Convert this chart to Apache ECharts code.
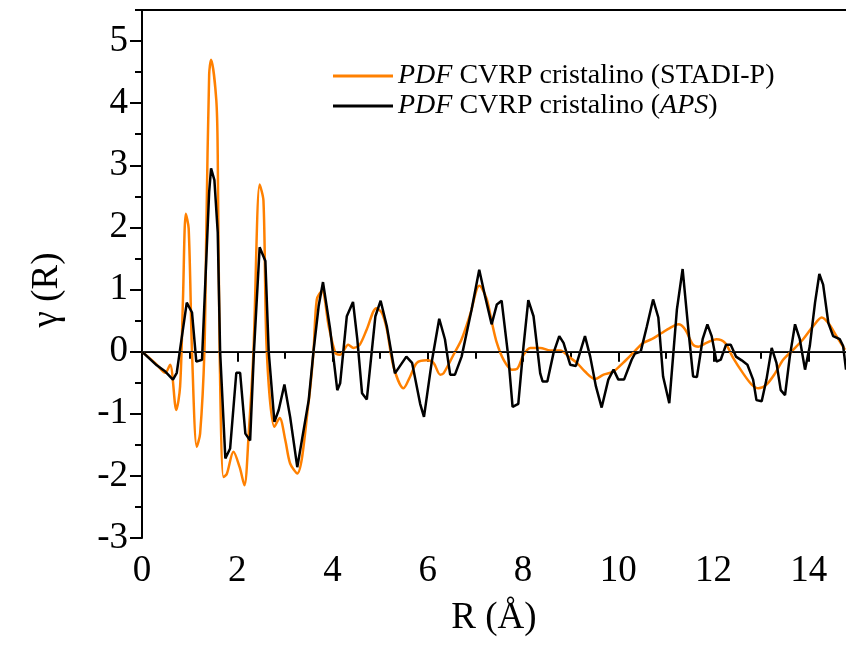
<!DOCTYPE html>
<html>
<head>
<meta charset="utf-8">
<script src="https://cdn.jsdelivr.net/npm/echarts@6/dist/echarts.min.js"></script>
<style>
html,body{margin:0;padding:0;background:#fff;}
#chart{width:846px;height:648px;}
</style>
</head>
<body>
<div id="chart"></div>
<script>
// ---- data (R in Å, gamma(R)) ----
const stadiR = [0,0.30,0.49,0.59,0.72,0.80,0.86,0.92,0.98,1.05,1.15,1.22,1.31,1.35,1.41,1.45,1.56,1.59,1.63,1.71,1.78,1.92,2.05,2.15,2.24,2.34,2.47,2.55,2.62,2.78,2.89,3.01,3.11,3.26,3.50,3.60,3.67,3.78,3.92,4.06,4.16,4.33,4.44,4.57,4.72,4.92,5.04,5.14,5.28,5.49,5.63,5.77,5.98,6.12,6.26,6.33,6.54,6.71,6.89,7.08,7.13,7.24,7.34,7.45,7.59,7.76,7.87,8.01,8.15,8.36,8.57,8.78,8.99,9.13,9.30,9.51,9.69,9.90,10.10,10.31,10.52,10.70,10.91,11.08,11.26,11.40,11.57,11.68,11.85,12.06,12.24,12.41,12.62,12.80,12.94,13.11,13.29,13.46,13.67,13.88,14.09,14.27,14.41,14.58,14.76];
const stadiG = [0,-0.20,-0.34,-0.21,-0.94,-0.56,0.84,2.22,1.98,0,-1.53,-1.32,0,1.92,4.46,4.70,4.05,3.16,0,-2.02,-1.97,-1.61,-1.86,-2.15,-1.32,0,2.69,2.43,0,-1.21,-1.07,-1.43,-1.80,-1.96,-0.80,0,0.84,0.98,0.41,-0.02,-0.05,0.11,0.06,0.11,0.36,0.70,0.62,0.36,-0.24,-0.59,-0.40,-0.18,-0.14,-0.18,-0.37,-0.35,-0.05,0.20,0.60,1.06,1.03,0.84,0.49,0.14,-0.13,-0.29,-0.28,-0.05,0.06,0.06,0.02,0.02,-0.10,-0.18,-0.32,-0.44,-0.37,-0.32,-0.18,-0.02,0.14,0.20,0.30,0.38,0.44,0.36,0.11,0.08,0.14,0.20,0.14,-0.10,-0.35,-0.53,-0.59,-0.53,-0.35,-0.13,0.03,0.20,0.41,0.55,0.46,0.25,0.03];

const apsR = [0,0.31,0.49,0.65,0.73,0.80,0.94,1.05,1.14,1.26,1.41,1.45,1.52,1.59,1.64,1.75,1.85,1.98,2.06,2.17,2.27,2.35,2.47,2.59,2.66,2.78,2.87,2.99,3.11,3.26,3.50,3.60,3.71,3.80,3.95,4.10,4.16,4.30,4.43,4.52,4.62,4.72,4.90,5.01,5.14,5.31,5.55,5.67,5.84,5.92,6.08,6.24,6.36,6.47,6.57,6.71,6.92,7.08,7.20,7.34,7.45,7.55,7.69,7.78,7.90,8.01,8.11,8.22,8.36,8.41,8.51,8.64,8.76,8.85,8.99,9.11,9.30,9.41,9.53,9.65,9.79,9.90,10.00,10.12,10.28,10.35,10.47,10.60,10.73,10.84,10.94,11.07,11.23,11.35,11.47,11.57,11.65,11.77,11.87,11.96,12.06,12.15,12.26,12.36,12.47,12.59,12.71,12.83,12.90,13.01,13.11,13.22,13.32,13.41,13.50,13.60,13.71,13.81,13.92,14.02,14.13,14.22,14.30,14.41,14.51,14.65,14.72,14.78];
const apsG = [0,-0.22,-0.32,-0.45,-0.34,0.04,0.79,0.63,-0.16,-0.13,2.57,2.95,2.76,1.92,0,-1.72,-1.56,-0.34,-0.34,-1.32,-1.43,0,1.68,1.46,0,-1.13,-0.94,-0.53,-1.05,-1.86,-0.78,0,0.74,1.12,0.36,-0.62,-0.51,0.57,0.80,0.20,-0.67,-0.77,0.57,0.82,0.41,-0.35,-0.08,-0.18,-0.84,-1.05,-0.18,0.53,0.20,-0.37,-0.37,-0.08,0.68,1.32,0.90,0.44,0.76,0.82,-0.08,-0.89,-0.84,0.09,0.83,0.57,-0.35,-0.48,-0.48,-0.02,0.25,0.14,-0.21,-0.23,0.25,-0.08,-0.56,-0.90,-0.45,-0.29,-0.45,-0.45,-0.13,-0.03,0,0.41,0.84,0.55,-0.40,-0.83,0.68,1.33,0.36,-0.40,-0.41,0.20,0.44,0.25,-0.16,-0.13,0.11,0.11,-0.08,-0.14,-0.21,-0.45,-0.78,-0.80,-0.45,0.06,-0.18,-0.62,-0.70,-0.08,0.44,0.20,-0.29,0.09,0.79,1.25,1.08,0.46,0.25,0.20,0.09,-0.29];

const xTicks = [0,2,4,6,8,10,12,14];
const xMinorTicks = [1,3,5,7,9,11,13];
const yTicks = [-3,-2,-1,0,1,2,3,4,5];
const yMinorTicks = [-2.5,-1.5,-0.5,0.5,1.5,2.5,3.5,4.5,5.5];

const seriesNames = ['PDF CVRP cristalino (STADI-P)', 'PDF CVRP cristalino (APS)'];
const legendRich = {
  'PDF CVRP cristalino (STADI-P)': '{i|PDF} CVRP cristalino (STADI-P)',
  'PDF CVRP cristalino (APS)': '{i|PDF} CVRP cristalino ({i|APS})'
};

const FONT = 'Liberation Serif';
const pairs = (xs, ys) => xs.map((x, i) => [x, ys[i]]);

const chart = echarts.init(document.getElementById('chart'), null, {renderer: 'canvas'});
const axisLineStyle = {color: '#000', width: 2};
chart.setOption({
  animation: false,
  backgroundColor: '#fff',
  grid: {left: 142, right: 0, top: 10, bottom: 110, containLabel: false},
  legend: {
    orient: 'vertical',
    left: 328,
    top: 56,
    itemWidth: 60,
    itemHeight: 3,
    itemGap: 0,
    icon: 'rect',
    data: seriesNames,
    formatter: n => legendRich[n],
    textStyle: {
      fontFamily: FONT, fontSize: 28, color: '#000', lineHeight: 30,
      rich: {i: {fontFamily: FONT, fontSize: 28, fontStyle: 'italic', color: '#000', lineHeight: 30}}
    }
  },
  xAxis: [
    {
      type: 'value', min: 0, max: 14.78, position: 'bottom',
      axisLine: {show: true, lineStyle: axisLineStyle},
      axisTick: {show: true, customValues: xTicks, length: 10, lineStyle: {color: '#000', width: 2}},
      axisLabel: {customValues: xTicks, fontFamily: FONT, fontSize: 37, color: '#000', margin: 15},
      splitLine: {show: false},
      name: 'R (Å)', nameLocation: 'middle', nameGap: 62,
      nameTextStyle: {fontFamily: FONT, fontSize: 37, color: '#000'}
    },
    {
      type: 'value', min: 0, max: 14.78, position: 'bottom',
      axisLine: {show: false},
      axisTick: {show: true, customValues: xMinorTicks, length: 7, lineStyle: {color: '#000', width: 2}},
      axisLabel: {show: false}, splitLine: {show: false}
    },
    {
      type: 'value', min: 0, max: 14.78, position: 'top',
      axisLine: {show: true, lineStyle: axisLineStyle},
      axisTick: {show: false}, axisLabel: {show: false}, splitLine: {show: false}
    }
  ],
  yAxis: [
    {
      type: 'value', min: -3, max: 5.5, position: 'left',
      axisLine: {show: true, lineStyle: axisLineStyle},
      axisTick: {show: true, customValues: yTicks, length: 12, lineStyle: {color: '#000', width: 2}},
      axisLabel: {customValues: yTicks, fontFamily: FONT, fontSize: 37, color: '#000', margin: 14},
      splitLine: {show: false},
      name: 'γ (R)', nameLocation: 'middle', nameGap: 76, nameRotate: 90,
      nameTextStyle: {fontFamily: FONT, fontSize: 37, color: '#000', padding: [0, 32, 0, 0]}
    },
    {
      type: 'value', min: -3, max: 5.5, position: 'left',
      axisLine: {show: false},
      axisTick: {show: true, customValues: yMinorTicks, length: 7, lineStyle: {color: '#000', width: 2}},
      axisLabel: {show: false}, splitLine: {show: false}
    }
  ],
  series: [
    {
      name: seriesNames[0], type: 'line', xAxisIndex: 0, yAxisIndex: 0,
      data: pairs(stadiR, stadiG), showSymbol: false, symbol: 'none', smooth: 0.3,
      lineStyle: {color: '#FF8000', width: 2.5}, itemStyle: {color: '#FF8000'}, z: 2
    },
    {
      name: seriesNames[1], type: 'line', xAxisIndex: 0, yAxisIndex: 0,
      data: pairs(apsR, apsG), showSymbol: false, symbol: 'none', smooth: false,
      lineStyle: {color: '#000', width: 2.5}, itemStyle: {color: '#000'}, z: 3,
      markLine: {
        silent: true, symbol: 'none', label: {show: false},
        lineStyle: {color: '#222', width: 1.2, type: 'solid'},
        data: [{yAxis: 0}]
      }
    }
  ]
});
</script>
</body>
</html>
